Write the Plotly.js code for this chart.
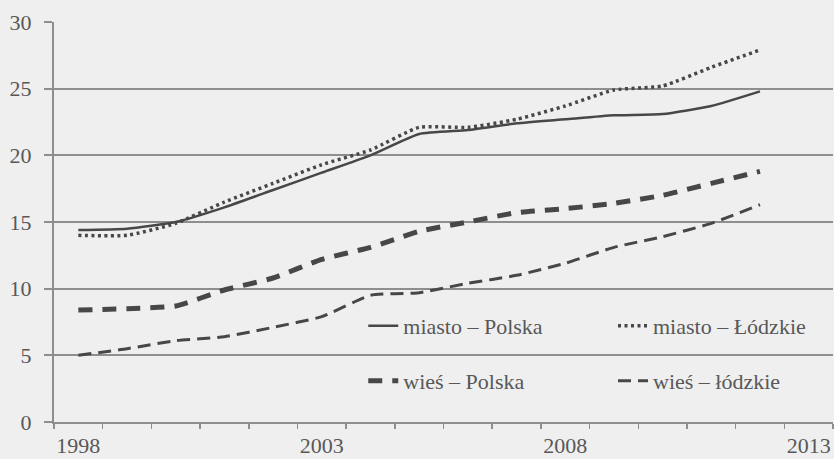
<!DOCTYPE html>
<html><head><meta charset="utf-8">
<script src="https://cdn.plot.ly/plotly-3.0.1.min.js"></script>
<style>html,body{margin:0;padding:0;background:#efefef}</style>
</head><body><div id="chart" style="width:834px;height:459px"></div>
<script>
const years = [1998,1999,2000,2001,2002,2003,2004,2005,2006,2007,2008,2009,2010,2011,2012];
const miastoPolska   = [14.4,14.5,15.0,16.1,17.4,18.7,20.0,21.6,21.9,22.4,22.7,23.0,23.1,23.7,24.8];
const miastoLodzkie  = [14.0,14.0,14.9,16.5,17.9,19.3,20.4,22.1,22.1,22.7,23.7,24.9,25.2,26.6,27.9];
const wiesPolska     = [8.4,8.5,8.7,9.9,10.8,12.2,13.1,14.3,15.0,15.7,16.0,16.4,17.0,17.9,18.8];
const wiesLodzkie    = [5.0,5.5,6.1,6.4,7.1,7.9,9.5,9.7,10.4,11.0,11.9,13.1,13.9,14.9,16.3];
const seriesNames = ['miasto – Polska','miasto – Łódzkie','wieś – Polska','wieś – łódzkie'];
const xTickVals = [1998,2003,2008,2013];
const yTickVals = [0,5,10,15,20,25,30];

const lineCol = '#474747';
const gridCol = '#8e8e8e';
const textCol = '#585858';
const font = {family:'Liberation Serif', size:22, color:textCol};

const traces = [
  {x:years, y:miastoPolska, name:seriesNames[0], mode:'lines', legend:'legend',
   line:{color:lineCol, width:2.5, shape:'spline', smoothing:0.5}},
  {x:years, y:miastoLodzkie, name:seriesNames[1], mode:'lines', legend:'legend3',
   line:{color:lineCol, width:3.5, dash:'3px,3.5px', shape:'spline', smoothing:0.5}},
  {x:years, y:wiesPolska, name:seriesNames[2], mode:'lines', legend:'legend2',
   line:{color:lineCol, width:5, dash:'14px,10px', shape:'spline', smoothing:0.5}},
  {x:years, y:wiesLodzkie, name:seriesNames[3], mode:'lines', legend:'legend4',
   line:{color:lineCol, width:3, dash:'13px,7px', shape:'spline', smoothing:0.5}}
];

const legBase = {font:font, bgcolor:'rgba(0,0,0,0)', borderwidth:0, xanchor:'left', yanchor:'top'};
const layout = {
  width:834, height:459,
  margin:{l:54, r:1, t:22, b:37},
  paper_bgcolor:'#efefef', plot_bgcolor:'#efefef',
  font:font,
  showlegend:true,
  xaxis:{range:[1997.5,2013.5], tickmode:'array', tickvals:xTickVals, ticktext:xTickVals.map(String),
         ticks:'', showgrid:false, zeroline:false, showline:true, linecolor:gridCol, linewidth:2,
         tickfont:font, ticklabelstandoff:3,
         minor:{tickmode:'linear', tick0:1997.5, dtick:1, ticks:'outside', ticklen:5, tickcolor:gridCol, tickwidth:1.5, showgrid:false}},
  yaxis:{range:[0,30], tickmode:'array', tickvals:yTickVals, ticks:'outside', ticklen:8, tickcolor:gridCol, tickwidth:2,
         showgrid:true, gridcolor:gridCol, gridwidth:2, zeroline:false, showline:true, linecolor:gridCol, linewidth:2,
         tickfont:font, ticklabelstandoff:8},
  legend: Object.assign({x:0.397, y:0.2925}, legBase),
  legend2: Object.assign({x:0.397, y:0.155}, legBase),
  legend3: Object.assign({x:0.7176, y:0.2925}, legBase),
  legend4: Object.assign({x:0.7176, y:0.155}, legBase)
};
Plotly.newPlot('chart', traces, layout, {displayModeBar:false, staticPlot:true});
</script></body></html>
